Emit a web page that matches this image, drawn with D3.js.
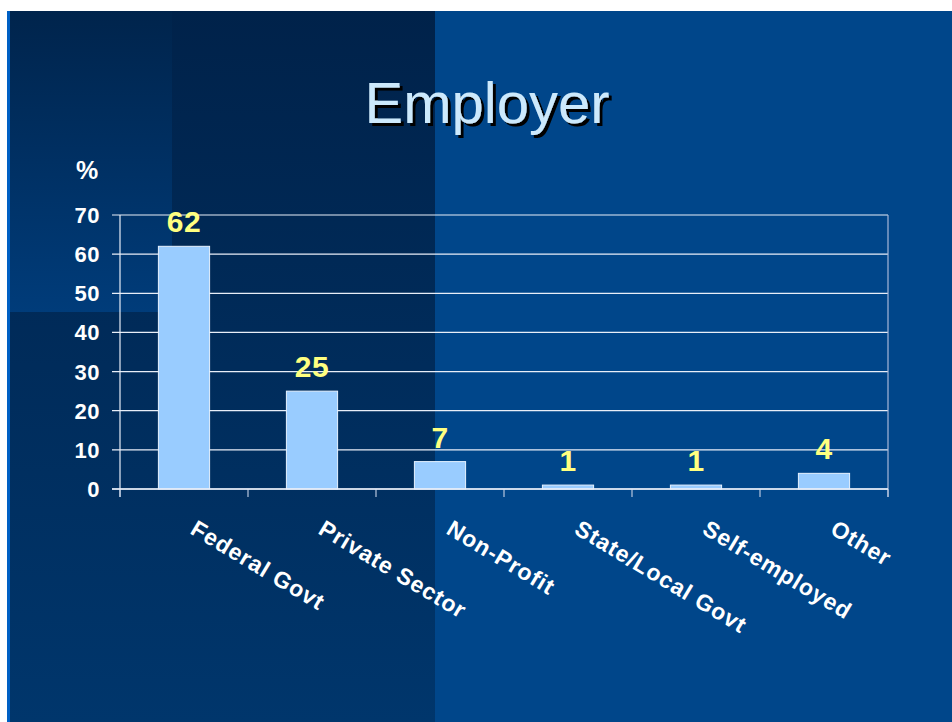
<!DOCTYPE html>
<html><head><meta charset="utf-8">
<script src="https://cdn.jsdelivr.net/npm/d3@7"></script>
<style>body{margin:0;background:#fff}svg{display:block}</style>
</head><body>
<script>
const title = "Employer";
const categories = ["Federal Govt","Private Sector","Non-Profit","State/Local Govt","Self-employed","Other"];
const values = [62,25,7,1,1,4];
const yTicks = [0,10,20,30,40,50,60,70];
const yUnit = "%";

(function(){
const W = 952, H = 722;
const svg = d3.select("body").append("svg").attr("width",W).attr("height",H);
const defs = svg.append("defs");
function grad(id, c0, c1){
  const g = defs.append("linearGradient").attr("id",id).attr("x1",0).attr("y1",0).attr("x2",0).attr("y2",1);
  g.append("stop").attr("offset","0%").attr("stop-color",c0);
  g.append("stop").attr("offset","100%").attr("stop-color",c1);
}
grad("gDark","#00224a","#00366c");
grad("gSq","#00244c","#003c7a");
const sh = defs.append("filter").attr("id","shadow").attr("x","-10%").attr("y","-10%").attr("width","130%").attr("height","140%");
sh.append("feDropShadow").attr("dx",3).attr("dy",3).attr("stdDeviation",0.3).attr("flood-color","#000").attr("flood-opacity",1);

// background
svg.append("rect").attr("x",0).attr("y",0).attr("width",W).attr("height",H).attr("fill","#fff");
svg.append("rect").attr("x",7).attr("y",11).attr("width",W-7).attr("height",H-11).attr("fill","#0060c4");
svg.append("rect").attr("x",10).attr("y",11).attr("width",425).attr("height",H-11).attr("fill","url(#gDark)");
svg.append("rect").attr("x",10).attr("y",11).attr("width",162).attr("height",301).attr("fill","url(#gSq)");
svg.append("rect").attr("x",435).attr("y",11).attr("width",W-435).attr("height",H-11).attr("fill","#00468a");

// title
svg.append("text").attr("x",487).attr("y",123).attr("text-anchor","middle")
  .attr("font-family","Liberation Sans, Arial, sans-serif").attr("font-size",58)
  .attr("fill","#cce9fc").attr("filter","url(#shadow)").text(title);

const pL = 120, pR = 888, pT = 215, pB = 489;
const x = d3.scaleBand().domain(categories).range([pL,pR]).padding(0);
const y = d3.scaleLinear().domain([0,70]).range([pB,pT]);
const barW = x.bandwidth()*0.4;

// gridlines
svg.append("g").selectAll("line").data(yTicks).join("line")
  .attr("x1",pL-8).attr("x2",pR).attr("y1",d=>y(d)).attr("y2",d=>y(d))
  .attr("stroke","#e8eef8").attr("stroke-width",1.2);
svg.append("line").attr("x1",pL).attr("x2",pL).attr("y1",pT).attr("y2",pB+8)
  .attr("stroke","#e8eef8").attr("stroke-width",1.2);
svg.append("line").attr("x1",pR).attr("x2",pR).attr("y1",pT).attr("y2",pB+8)
  .attr("stroke","#a8b8d8").attr("stroke-width",1.2);
const bounds = categories.map(c=>x(c)).concat([pR]);
svg.append("g").selectAll("line").data(bounds).join("line")
  .attr("x1",d=>d).attr("x2",d=>d).attr("y1",pB).attr("y2",pB+8)
  .attr("stroke","#b8c6de").attr("stroke-width",1.2);

// bars
svg.append("g").selectAll("rect").data(values).join("rect")
  .attr("x",(d,i)=>x(categories[i])+x.bandwidth()/2-barW/2)
  .attr("y",d=>y(d)).attr("width",barW).attr("height",d=>pB-y(d))
  .attr("fill","#99ccff").attr("stroke","#e6f2ff").attr("stroke-width",1);
svg.append("line").attr("x1",pL-8).attr("x2",pR).attr("y1",pB).attr("y2",pB)
  .attr("stroke","#e8eef8").attr("stroke-width",1.4);

// y tick labels
svg.append("g").selectAll("text").data(yTicks).join("text")
  .attr("x",100).attr("y",d=>y(d)+8).attr("text-anchor","end")
  .attr("font-family","Liberation Sans, Arial, sans-serif").attr("font-weight","bold")
  .attr("font-size",22).attr("letter-spacing",0.5).attr("fill","#fff").text(d=>d);
svg.append("text").attr("x",87).attr("y",179).attr("text-anchor","middle")
  .attr("font-family","Liberation Sans, Arial, sans-serif").attr("font-weight","bold")
  .attr("font-size",25).attr("fill","#fff").text(yUnit);

// value labels
svg.append("g").selectAll("text").data(values).join("text")
  .attr("x",(d,i)=>x(categories[i])+x.bandwidth()/2).attr("y",d=>y(d)-14)
  .attr("text-anchor","middle")
  .attr("font-family","Liberation Sans, Arial, sans-serif").attr("font-weight","bold")
  .attr("font-size",30).attr("letter-spacing",0.5).attr("fill","#ffff80").text(d=>d);

// x labels
svg.append("g").selectAll("text").data(categories).join("text")
  .attr("transform",d=>`translate(${x(d)+x.bandwidth()/2+5},${pB+44}) rotate(31)`)
  .attr("font-family","Liberation Sans, Arial, sans-serif").attr("font-weight","bold")
  .attr("font-size",23).attr("letter-spacing",0.9).attr("fill","#fff").text(d=>d);
})();
</script>
</body></html>
